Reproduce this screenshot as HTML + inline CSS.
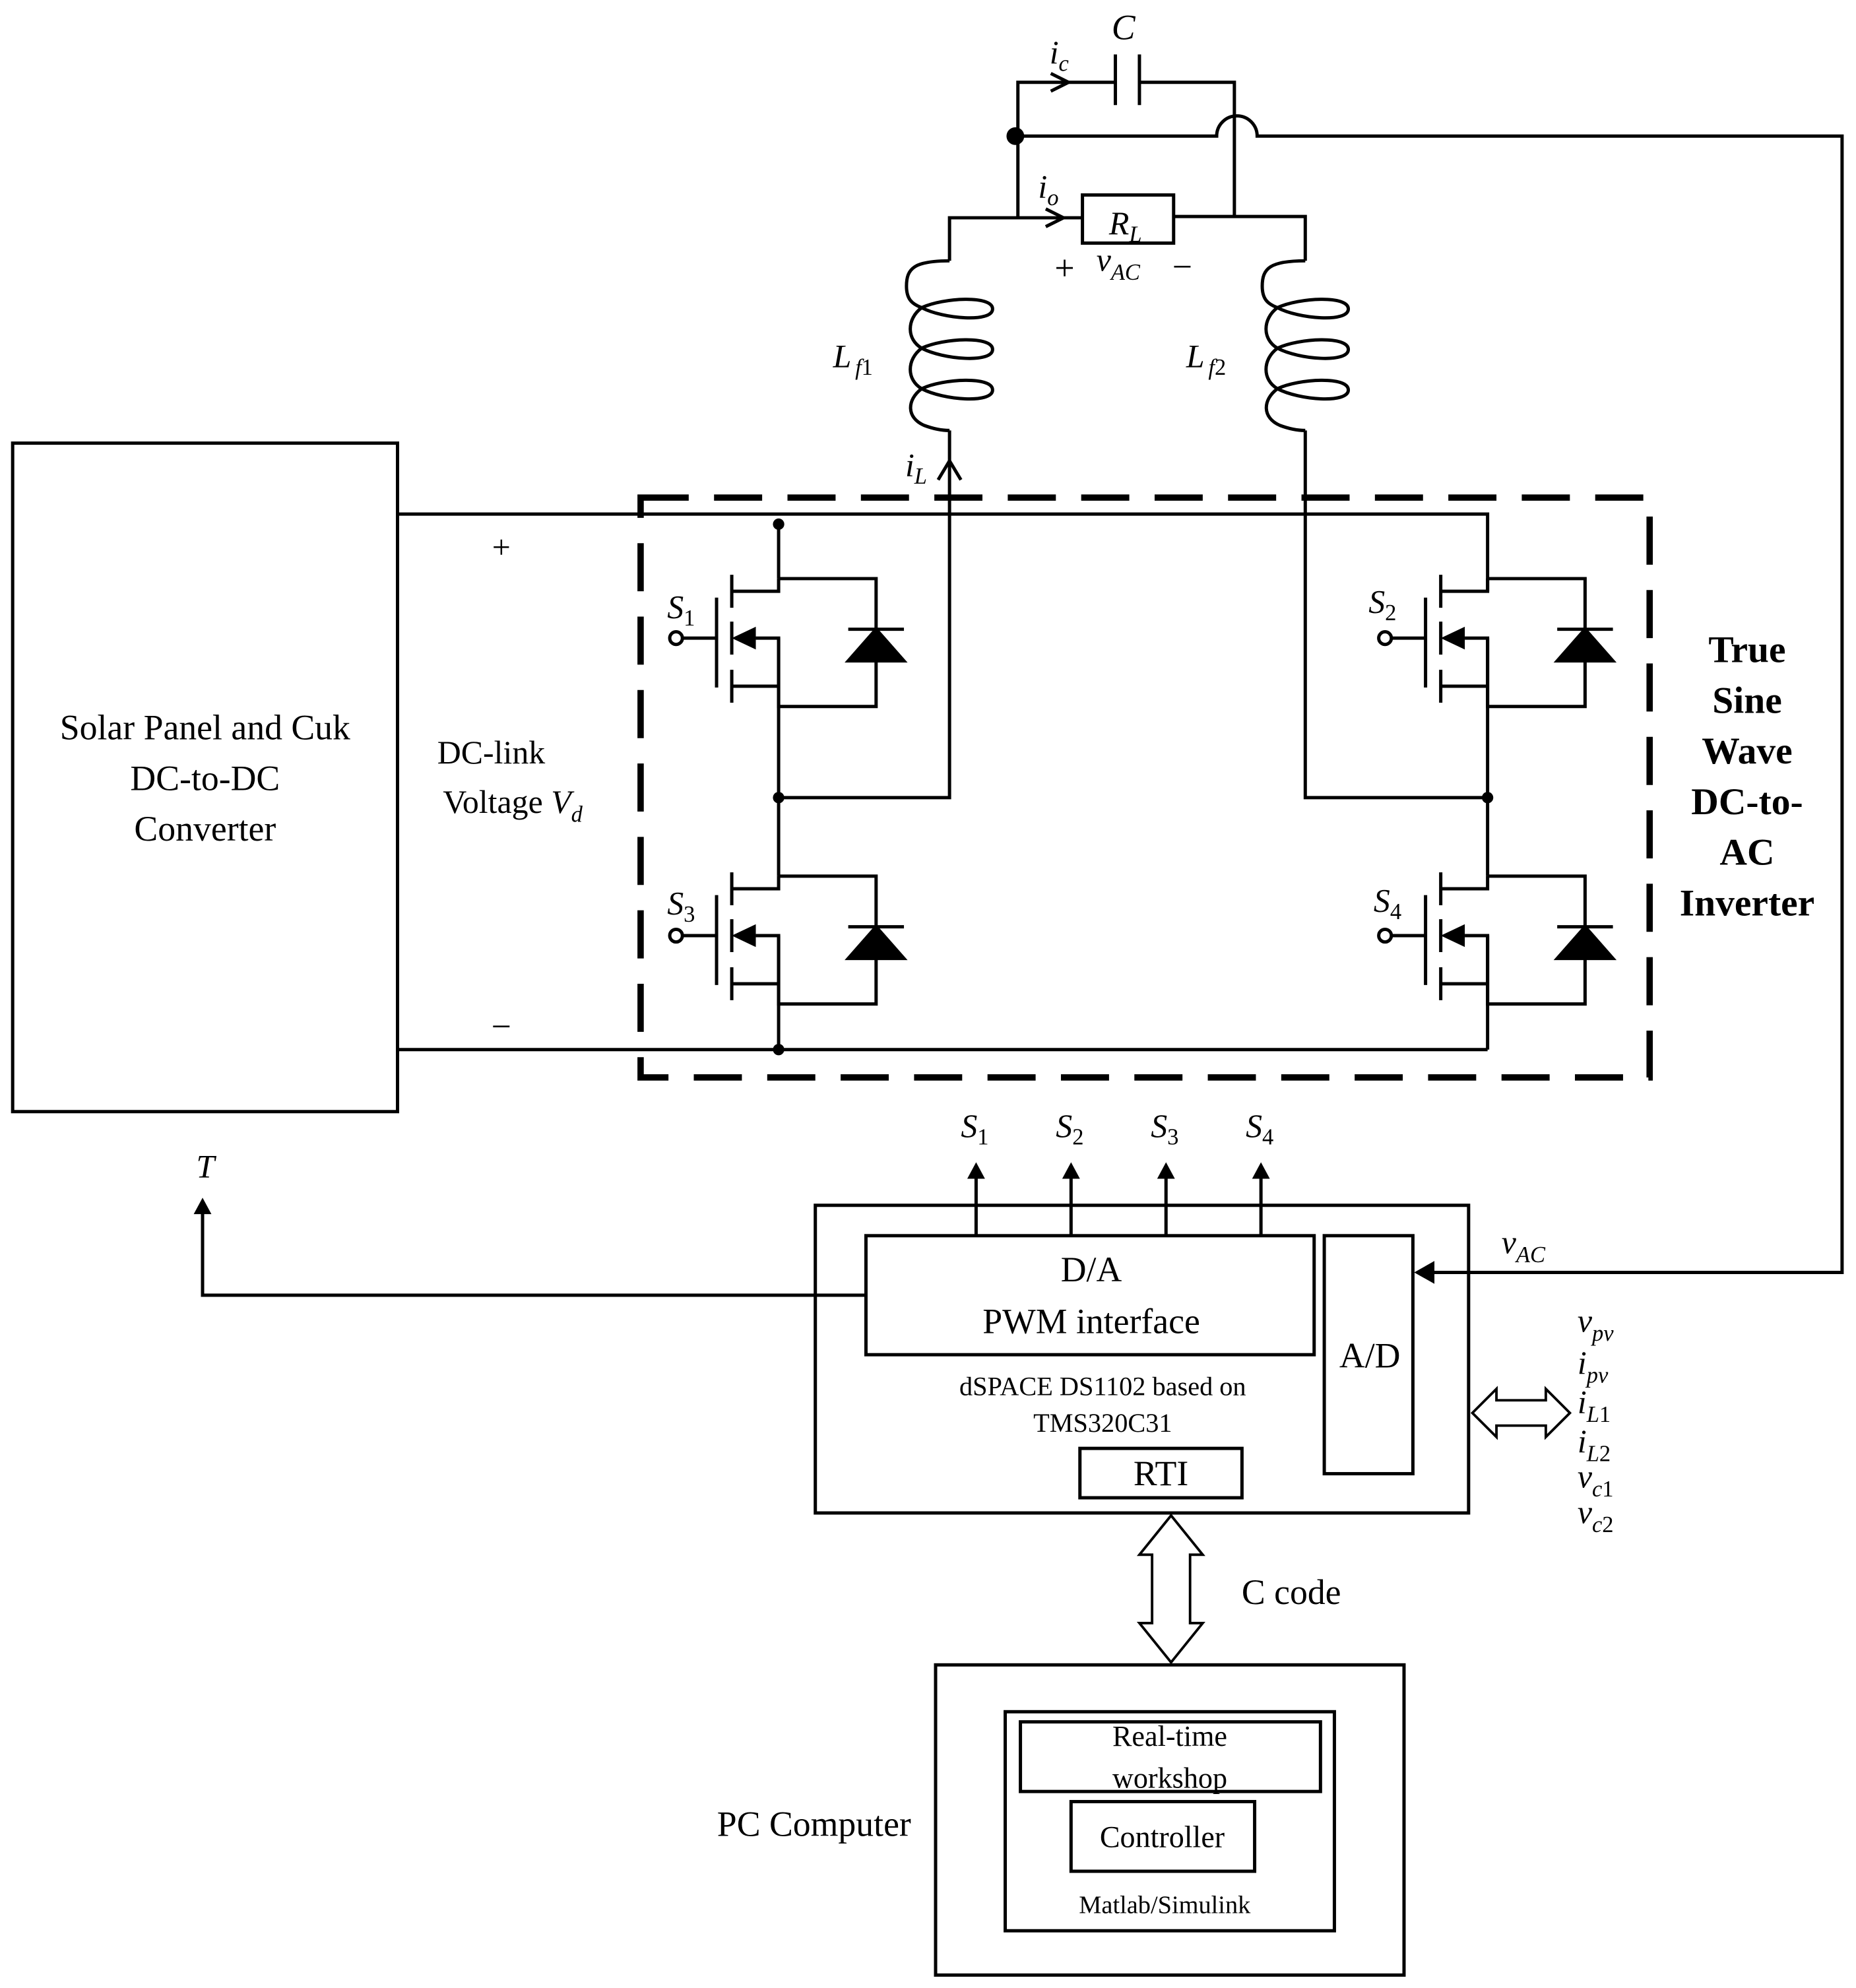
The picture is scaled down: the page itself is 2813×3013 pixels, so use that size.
<!DOCTYPE html>
<html><head><meta charset="utf-8"><style>
html,body{margin:0;padding:0;background:#fff}
svg{display:block}
text{font-family:"Liberation Serif",serif;fill:#000}
.i{font-style:italic}
</style></head><body>
<svg width="2813" height="3013" viewBox="0 0 1466 1570.2" xmlns="http://www.w3.org/2000/svg">
<defs>
<g id="mos" fill="none" stroke="#000" stroke-width="2.6">
  <path d="M0,-47 H0 V-37 H-37"/>
  <path d="M-37,-50 V-24 M-37,-13 V13 M-37,25 V51"/>
  <path d="M-49,-32 V39"/>
  <path d="M-76,0 H-49"/>
  <circle cx="-81" cy="0" r="5"/>
  <path d="M-18,0 H0 V54 H77 V18"/>
  <path d="M-37,38 H0"/>
  <path d="M0,-47 H77 V-7"/>
  <path d="M55,-7 H99"/>
  <polygon points="55,18 99,18 77,-7" fill="#000"/>
  <polygon points="-37,0 -18,-9 -18,9" fill="#000" stroke="none"/>
</g>
<g id="coil" fill="none" stroke="#000" stroke-width="2.6">
  <path d="M0,206 C-28,206 -34,212 -34,226 C-34,236 -30,240 -22,243 C-5,235 34,233 34,244 C34,255 -5,252 -22,243 C-34,252 -34,268 -22,275 C-5,267 34,265 34,276 C34,287 -5,284 -22,275 C-34,284 -34,300 -22,307 C-5,299 34,297 34,308 C34,319 -5,316 -22,307 C-34,316 -34,330 -20,336 C-12,339 -5,340 0,340"/>
</g>
</defs>
<g fill="none" stroke="#000" stroke-width="2.6">
  <rect x="10" y="350" width="304" height="528"/>
  <path d="M314,406 H1175 V467"/>
  <path d="M314,829 H1175"/>
  <path d="M615,414 V457"/>
  <path d="M615,504 V692"/>
  <path d="M615,739 V829"/>
  <path d="M1175,504 V692"/>
  <path d="M1175,739 V829"/>
  <path d="M615,630 H750 V340"/>
  <path d="M1175,630 H1031 V340"/>
  <path d="M750,206 V172 H855"/>
  <rect x="855" y="154" width="72" height="38"/>
  <path d="M927,171 H1031 V206"/>
  <path d="M804,172 V65 H881 M900,65 H975 V171"/>
  <path d="M881,43 V83 M900,43 V83"/>
  <path d="M802,107.5 H961 A16,16 0 0 1 993,107.5 H1455 V1005 H1130"/>
  <path d="M830,58 L844,65 L830,72"/>
  <path d="M826,165 L840,172 L826,179"/>
  <path d="M741,379 L750,364 L759,379"/>
  <rect x="644" y="952" width="516" height="243"/>
  <rect x="684" y="976" width="354" height="94"/>
  <rect x="1046" y="976" width="70" height="188"/>
  <rect x="853" y="1144" width="128" height="39"/>
  <path d="M771,976 V928 M846,976 V928 M921,976 V928 M996,976 V928"/>
  <path d="M684,1023 H160 V958"/>
  <rect x="739" y="1315" width="370" height="245"/>
  <rect x="794" y="1352" width="260" height="173"/>
  <rect x="806" y="1360" width="237" height="55"/>
  <rect x="846" y="1423" width="145" height="55"/>
  <path d="M1163,1116 L1182,1097 V1106 H1221 V1097 L1240,1116 L1221,1135 V1126 H1182 V1135 Z" stroke-width="2"/>
  <path d="M925,1197 L900,1228 H910 V1282 H900 L925,1313 L950,1282 H940 V1228 H950 Z" stroke-width="2"/>
</g>
<g fill="#000">
  <polygon points="1117,1005 1133,996 1133,1014"/>
  <polygon points="771,918 764,931 778,931"/>
  <polygon points="846,918 839,931 853,931"/>
  <polygon points="921,918 914,931 928,931"/>
  <polygon points="996,918 989,931 1003,931"/>
  <polygon points="160,946 153,959 167,959"/>
  <circle cx="615" cy="414" r="4.5"/>
  <circle cx="615" cy="630" r="4.5"/>
  <circle cx="615" cy="829" r="4.5"/>
  <circle cx="1175" cy="630" r="4.5"/>
  <circle cx="802" cy="107.5" r="7"/>
</g>
<use href="#coil" x="750" y="0"/>
<use href="#coil" x="1031" y="0"/>
<use href="#mos" x="615" y="504"/>
<use href="#mos" x="615" y="739"/>
<use href="#mos" x="1175" y="504"/>
<use href="#mos" x="1175" y="739"/>
<rect x="506" y="393" width="797" height="458" fill="none" stroke="#000" stroke-width="5" stroke-dasharray="38,20"/>
<g font-size="28" text-anchor="middle">
  <text x="162" y="584">Solar Panel and Cuk</text>
  <text x="162" y="624">DC-to-DC</text>
  <text x="162" y="664">Converter</text>
  <text x="388" y="603" font-size="26">DC-link</text>
  <text x="405" y="642" font-size="26">Voltage <tspan class="i">V</tspan><tspan class="i" font-size="18" dy="7">d</tspan></text>
  <text x="396" y="441" font-size="26">+</text>
  <text x="396" y="820" font-size="28">−</text>
  <g font-weight="bold" font-size="30">
    <text x="1380" y="523">True</text>
    <text x="1380" y="563">Sine</text>
    <text x="1380" y="603">Wave</text>
    <text x="1380" y="643">DC-to-</text>
    <text x="1380" y="683">AC</text>
    <text x="1380" y="723">Inverter</text>
  </g>
  <text x="862" y="1012">D/A</text>
  <text x="862" y="1053">PWM interface</text>
  <text x="1082" y="1080">A/D</text>
  <text x="871" y="1102" font-size="21">dSPACE DS1102 based on</text>
  <text x="871" y="1131" font-size="21">TMS320C31</text>
  <text x="917" y="1173">RTI</text>
  <text x="1020" y="1267">C code</text>
  <text x="924" y="1379" font-size="23">Real-time</text>
  <text x="924" y="1412" font-size="23">workshop</text>
  <text x="918" y="1459" font-size="24">Controller</text>
  <text x="920" y="1511" font-size="20">Matlab/Simulink</text>
  <text x="643" y="1450">PC Computer</text>
</g>
<g font-size="26" class="i">
  <text x="878" y="31" font-size="28">C</text>
  <text x="829" y="50">i<tspan font-size="18" dy="6">c</tspan></text>
  <text x="820" y="156">i<tspan font-size="18" dy="6">o</tspan></text>
  <text x="876" y="185">R<tspan font-size="18" dy="6">L</tspan></text>
  <text x="866" y="214">v<tspan font-size="18" dy="7">AC</tspan></text>
  <text x="715" y="376">i<tspan font-size="18" dy="6">L</tspan></text>
  <text x="658" y="290">L<tspan font-size="18" dx="3" dy="6">f</tspan><tspan font-size="18" font-style="normal">1</tspan></text>
  <text x="937" y="290">L<tspan font-size="18" dx="3" dy="6">f</tspan><tspan font-size="18" font-style="normal">2</tspan></text>
  <text x="527" y="488">S<tspan font-size="18" dy="6" font-style="normal">1</tspan></text>
  <text x="527" y="722">S<tspan font-size="18" dy="6" font-style="normal">3</tspan></text>
  <text x="1081" y="484">S<tspan font-size="18" dy="6" font-style="normal">2</tspan></text>
  <text x="1085" y="720">S<tspan font-size="18" dy="6" font-style="normal">4</tspan></text>
  <text x="759" y="898">S<tspan font-size="18" dy="6" font-style="normal">1</tspan></text>
  <text x="834" y="898">S<tspan font-size="18" dy="6" font-style="normal">2</tspan></text>
  <text x="909" y="898">S<tspan font-size="18" dy="6" font-style="normal">3</tspan></text>
  <text x="984" y="898">S<tspan font-size="18" dy="6" font-style="normal">4</tspan></text>
  <text x="155" y="930">T</text>
  <text x="1186" y="990">v<tspan font-size="18" dy="7">AC</tspan></text>
  <text x="1246" y="1052">v<tspan font-size="18" dy="7">pv</tspan></text>
  <text x="1246" y="1085">i<tspan font-size="18" dy="7">pv</tspan></text>
  <text x="1246" y="1116">i<tspan font-size="18" dy="7">L</tspan><tspan font-size="18" font-style="normal">1</tspan></text>
  <text x="1246" y="1147">i<tspan font-size="18" dy="7">L</tspan><tspan font-size="18" font-style="normal">2</tspan></text>
  <text x="1246" y="1175">v<tspan font-size="18" dy="7">c</tspan><tspan font-size="18" font-style="normal">1</tspan></text>
  <text x="1246" y="1203">v<tspan font-size="18" dy="7">c</tspan><tspan font-size="18" font-style="normal">2</tspan></text>
</g>
<g font-size="28">
  <text x="833" y="221">+</text>
  <text x="926" y="220">−</text>
</g>
</svg>
</body></html>
